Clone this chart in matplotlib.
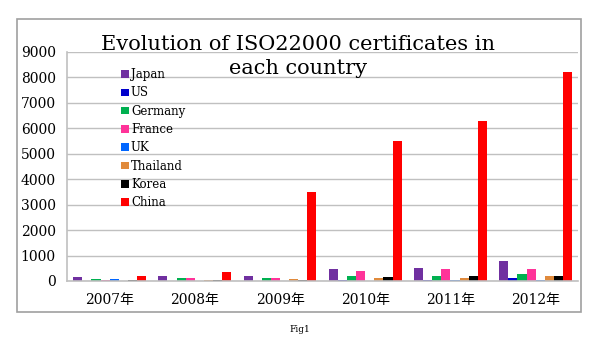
import numpy as np
import matplotlib.pyplot as plt
from matplotlib.patches import Rectangle

years = ['2007年', '2008年', '2009年', '2010年', '2011年', '2012年']
countries = ['Japan', 'US', 'Germany', 'France', 'UK', 'Thailand', 'Korea', 'China']
japan = [170, 200, 200, 480, 500, 780]
us = [10, 10, 10, 50, 50, 100]
germany = [80, 100, 130, 190, 210, 260]
france = [50, 100, 100, 380, 450, 470]
uk = [60, 0, 0, 0, 20, 30]
thailand = [0, 40, 60, 120, 130, 210]
korea = [40, 50, 40, 150, 190, 190]
china = [200, 370, 3500, 5500, 6300, 8220]
colors = ['#7030A0', '#0000CC', '#00B050', '#FF3399', '#0066FF', '#E08A3C', '#000000', '#FF0000']

series = [japan, us, germany, france, uk, thailand, korea, china]

plt.rcParams['font.family'] = ['DejaVu Serif', 'Noto Sans CJK JP']

fig = plt.figure(figsize=(6, 3.46), dpi=100)
ax = fig.add_axes([0.1117, 0.188, 0.852, 0.662])

x = np.arange(len(years))
w = 0.107
for i, (name, vals) in enumerate(zip(countries, series)):
    ax.bar(x - 4 * w + w / 2 + i * w, vals, width=w, color=colors[i], label=name)

ax.set_xlim(-0.5, len(years) - 0.5)
ax.set_ylim(0, 9000)
ax.set_yticks(range(0, 9001, 1000))
ax.set_xticks(x)
ax.set_xticklabels(years, fontsize=10)
ax.tick_params(axis='y', labelsize=10, length=0, pad=8)
ax.tick_params(axis='x', length=0, pad=9)
ax.grid(axis='y', color='#c0c0c0', linewidth=1)
ax.set_axisbelow(True)
for s in ['top', 'right']:
    ax.spines[s].set_visible(False)
ax.spines['left'].set_color('#c0c0c0')
ax.spines['bottom'].set_color('#c0c0c0')
ax.spines['left'].set_linewidth(1.2)
ax.spines['bottom'].set_linewidth(1.2)

leg = ax.legend(loc='upper left', bbox_to_anchor=(0.095, 0.955), frameon=False,
                fontsize=8.5, handlelength=0.6, handleheight=0.6,
                handletextpad=0.2, labelspacing=0.45, borderpad=0)

# title in two pieces, like the original
fig.text(0.497, 1 - 44 / 346, 'Evolution of ISO22000 certificates in',
         ha='center', va='center', fontsize=15)
fig.text(0.497, 1 - 69 / 346, 'each country',
         ha='center', va='center', fontsize=15)

fig.patches.append(Rectangle((17 / 600, 1 - 312 / 346), 564 / 600, 293 / 346,
                             transform=fig.transFigure, fill=False,
                             edgecolor='#a0a0a0', linewidth=1.2))
fig.text(0.5, 1 - 330 / 346, 'Fig1', ha='center', va='center', fontsize=6.5)

fig.savefig('out.png', dpi=100)
